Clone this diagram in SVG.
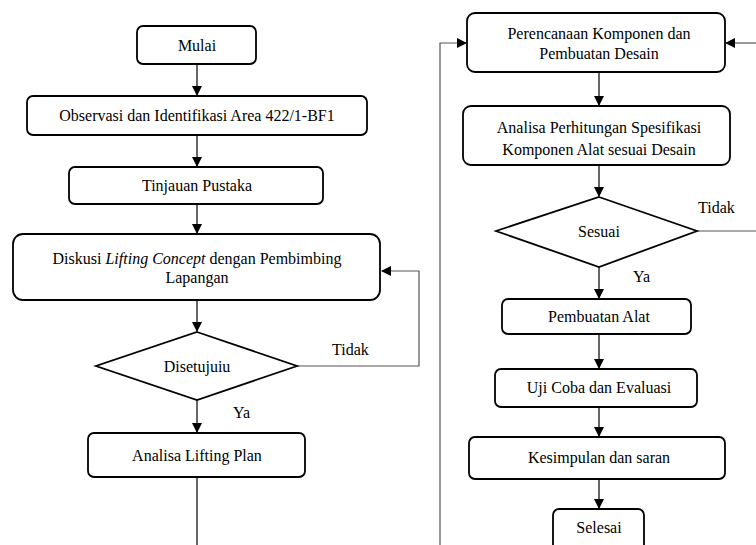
<svg xmlns="http://www.w3.org/2000/svg" width="756" height="545" viewBox="0 0 756 545">
<defs>
<marker id="ah" markerWidth="10" markerHeight="10" refX="9" refY="5" orient="auto" markerUnits="userSpaceOnUse">
<path d="M0,0 L10,5 L0,10 Z" fill="#000"/>
</marker>
<style>
.box{fill:#fff;stroke:#000;stroke-width:1.8}
.t{font-family:"Liberation Serif","Times New Roman",serif;font-size:16px;fill:#000;text-anchor:middle}
.lb{font-family:"Liberation Serif","Times New Roman",serif;font-size:16px;fill:#000}
.c{fill:none;stroke:#000;stroke-width:1.2}
.g{fill:none;stroke:#555;stroke-width:1.2}
</style>
</defs>
<rect width="756" height="545" fill="#fff"/>
<g id="connectors">
<line class="c" x1="197" y1="64" x2="197" y2="95" marker-end="url(#ah)"/>
<line class="c" x1="197" y1="135" x2="197" y2="166" marker-end="url(#ah)"/>
<line class="c" x1="197" y1="204" x2="197" y2="233" marker-end="url(#ah)"/>
<line class="c" x1="197" y1="300" x2="197" y2="331" marker-end="url(#ah)"/>
<polyline class="g" points="297,366 419,366 419,271 382,271" marker-end="url(#ah)"/>
<line class="c" x1="197" y1="400" x2="197" y2="432" marker-end="url(#ah)"/>
<line class="c" x1="197" y1="477" x2="197" y2="545"/>
<polyline class="g" points="440,545 440,43 466,43" marker-end="url(#ah)"/>
<line class="g" x1="756" y1="43" x2="726" y2="43" marker-end="url(#ah)"/>
<line class="c" x1="599" y1="72" x2="599" y2="105" marker-end="url(#ah)"/>
<line class="c" x1="599" y1="165" x2="599" y2="196" marker-end="url(#ah)"/>
<line class="g" x1="697" y1="231" x2="756" y2="231"/>
<line class="c" x1="599" y1="267" x2="599" y2="298" marker-end="url(#ah)"/>
<line class="c" x1="599" y1="334" x2="599" y2="368" marker-end="url(#ah)"/>
<line class="c" x1="599" y1="407" x2="599" y2="436" marker-end="url(#ah)"/>
<line class="c" x1="599" y1="479" x2="599" y2="508" marker-end="url(#ah)"/>
<text class="lb" x="332" y="355">Tidak</text>
<text class="lb" x="233" y="418">Ya</text>
<text class="lb" x="698" y="213">Tidak</text>
<text class="lb" x="633" y="282">Ya</text>
</g>
<g id="mulai"><rect class="box" x="137" y="26" width="119" height="38" rx="6"/><text class="t" x="197" y="51">Mulai</text></g>
<g id="observasi"><rect class="box" x="27" y="96" width="340" height="39" rx="6"/><text class="t" x="197" y="121">Observasi dan Identifikasi Area 422/1-BF1</text></g>
<g id="tinjauan"><rect class="box" x="69" y="167" width="254" height="37" rx="6"/><text class="t" x="197" y="191">Tinjauan Pustaka</text></g>
<g id="diskusi"><rect class="box" x="13" y="234" width="367" height="66" rx="10"/><text class="t" x="197" y="264">Diskusi <tspan font-style="italic">Lifting Concept</tspan> dengan Pembimbing</text><text class="t" x="197" y="283">Lapangan</text></g>
<g id="disetujui"><polygon class="box" points="197,332 297,366 197,400 96,366"/><text class="t" x="197" y="372">Disetujuiu</text></g>
<g id="analisa-lifting"><rect class="box" x="88" y="433" width="217" height="44" rx="6"/><text class="t" x="197" y="461">Analisa Lifting Plan</text></g>
<g id="perencanaan"><rect class="box" x="467" y="13" width="258" height="59" rx="8"/><text class="t" x="599" y="39">Perencanaan Komponen dan</text><text class="t" x="599" y="59">Pembuatan Desain</text></g>
<g id="analisa-perhitungan"><rect class="box" x="463" y="106" width="267" height="59" rx="8"/><text class="t" x="599" y="133">Analisa Perhitungan Spesifikasi</text><text class="t" x="599" y="155">Komponen Alat sesuai Desain</text></g>
<g id="sesuai"><polygon class="box" points="599,197 697,231 599,267 496,231"/><text class="t" x="599" y="237">Sesuai</text></g>
<g id="pembuatan-alat"><rect class="box" x="502" y="299" width="189" height="35" rx="6"/><text class="t" x="599" y="322">Pembuatan Alat</text></g>
<g id="uji-coba"><rect class="box" x="495" y="369" width="202" height="38" rx="6"/><text class="t" x="599" y="393">Uji Coba dan Evaluasi</text></g>
<g id="kesimpulan"><rect class="box" x="469" y="437" width="256" height="42" rx="6"/><text class="t" x="599" y="463">Kesimpulan dan saran</text></g>
<g id="selesai"><rect class="box" x="553" y="509" width="91" height="50" rx="6"/><text class="t" x="599" y="533">Selesai</text></g>
</svg>
